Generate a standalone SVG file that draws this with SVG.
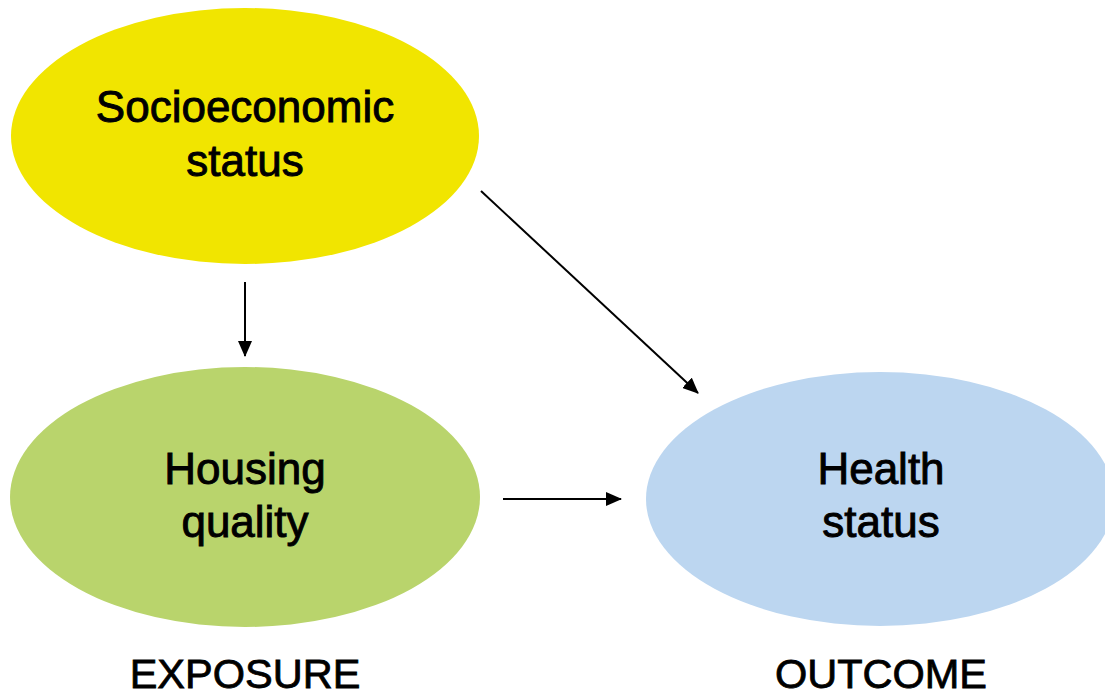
<svg xmlns="http://www.w3.org/2000/svg" width="1105" height="695" viewBox="0 0 1105 695">
  <defs>
    <marker id="arrow" markerWidth="16" markerHeight="14" refX="15" refY="7" orient="auto" markerUnits="userSpaceOnUse" viewBox="0 0 16 14">
      <path d="M0,0 L16,7 L0,14 Z" fill="#000"/>
    </marker>
    <style>
      .label { font-family: "Liberation Sans", Arial, sans-serif; font-size: 44px; fill: #000; text-anchor: middle; stroke: #000; stroke-width: 0.9; }
      .caption { font-family: "Liberation Sans", Arial, sans-serif; font-size: 41.5px; fill: #000; text-anchor: middle; stroke: #000; stroke-width: 0.8; }
      .edge { stroke: #000; stroke-width: 2; fill: none; marker-end: url(#arrow); }
    </style>
  </defs>
  <rect width="1105" height="695" fill="#fff"/>

  <g id="ses">
    <ellipse cx="245" cy="136" rx="234" ry="128" fill="#f1e500"/>
    <text class="label" x="245" y="122">Socioeconomic</text>
    <text class="label" x="245" y="176">status</text>
  </g>

  <g id="housing">
    <ellipse cx="245" cy="497" rx="235" ry="130" fill="#b9d46c"/>
    <text class="label" x="245" y="484">Housing</text>
    <text class="label" x="245" y="537">quality</text>
  </g>

  <g id="health">
    <ellipse cx="880" cy="499" rx="234" ry="127" fill="#bcd6f0"/>
    <text class="label" x="881" y="484">Health</text>
    <text class="label" x="881" y="537">status</text>
  </g>

  <g id="connectors">
    <line class="edge" x1="245" y1="282" x2="245" y2="356"/>
    <line class="edge" x1="481" y1="191" x2="698" y2="393"/>
    <line class="edge" x1="503" y1="499" x2="621" y2="499"/>
  </g>

  <g id="captions">
    <text class="caption" x="245" y="688">EXPOSURE</text>
    <text class="caption" x="881" y="688">OUTCOME</text>
  </g>
</svg>
